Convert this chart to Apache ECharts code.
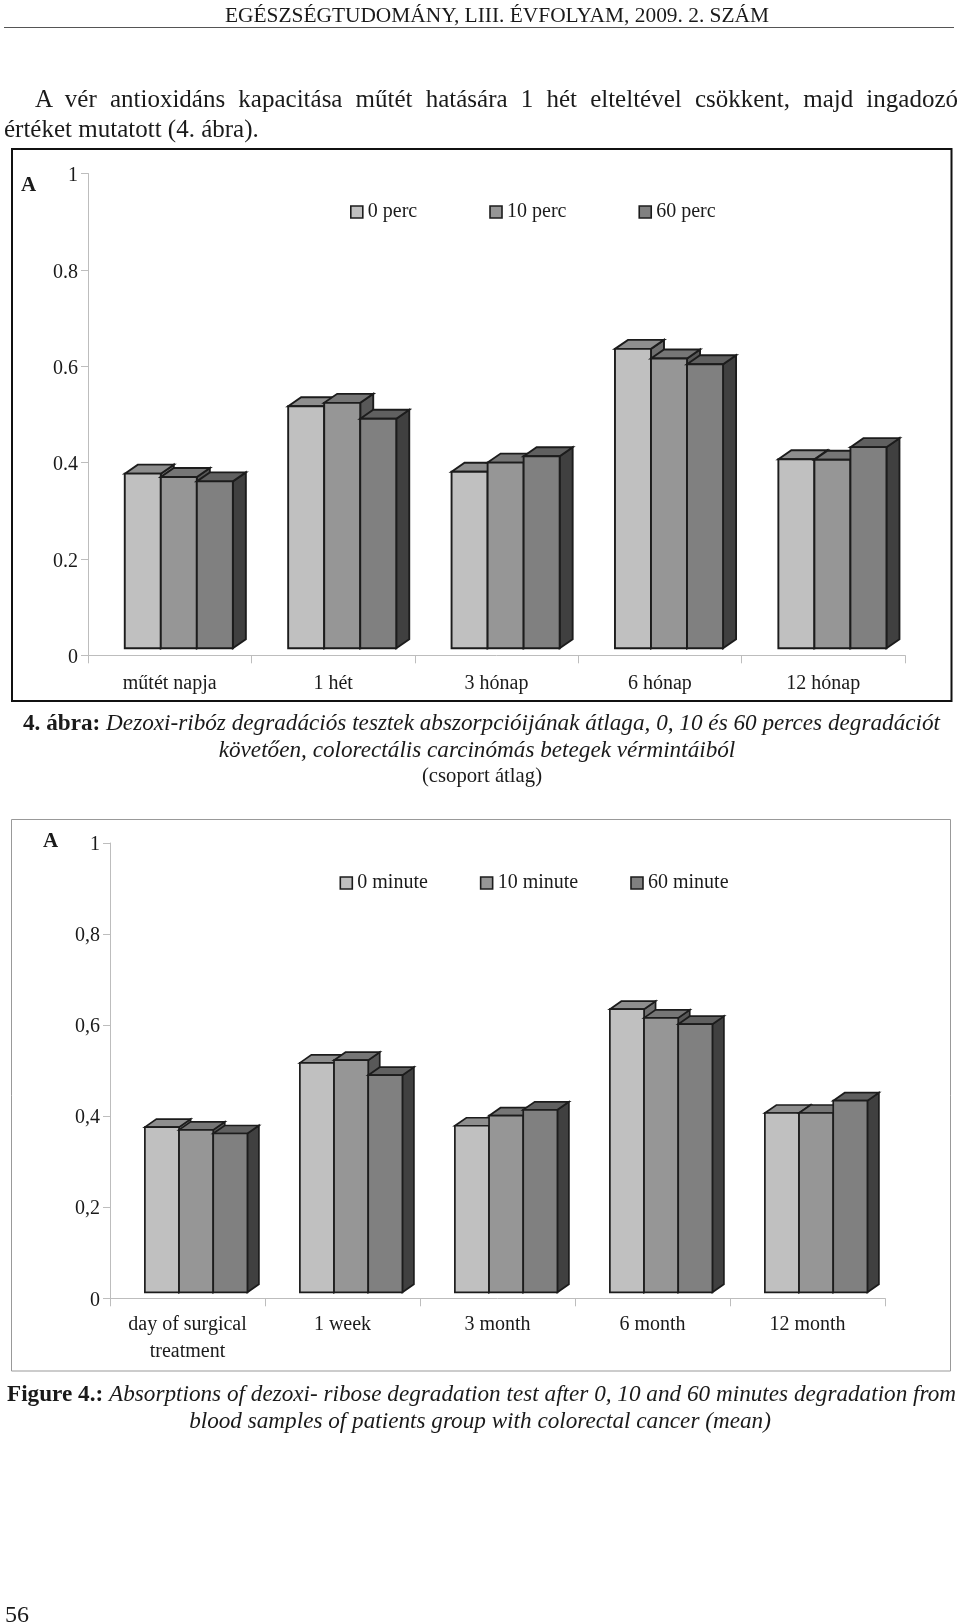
<!DOCTYPE html>
<html><head><meta charset="utf-8">
<style>
html,body{margin:0;padding:0;background:#fff}
#page{position:relative;width:960px;height:1624px;overflow:hidden;font-family:"Liberation Serif",serif;color:#1a1a1a}
#chart{position:absolute;left:0;top:0;width:960px;height:1624px}
.t{position:absolute;white-space:nowrap;line-height:1;transform:translateY(-50%)}
.j{text-align:justify;text-align-last:justify;white-space:normal}
.c{text-align:center}
#rule{position:absolute;left:4px;top:27px;width:950px;height:1px;background:#555}
</style>
<script src="https://cdn.jsdelivr.net/npm/echarts@6/dist/echarts.min.js"></script>
</head><body>
<div id="page">
<div id="chart"></div>
<div class="t c" style="left:0;width:960px;margin-left:17px;top:16px;font-size:21.4px">EGÉSZSÉGTUDOMÁNY, LIII. ÉVFOLYAM, 2009. 2. SZÁM</div>
<div id="rule"></div>
<div class="t j" style="left:35px;width:923px;top:98px;font-size:25px">A vér antioxidáns kapacitása műtét hatására 1 hét elteltével csökkent, majd ingadozó</div>
<div class="t" style="left:4px;top:128px;font-size:25px">értéket mutatott (4. ábra).</div>
<div class="t j" style="left:23px;width:917px;top:723px;font-size:23.2px"><b>4. ábra:</b> <i>Dezoxi-ribóz degradációs tesztek abszorpcióijának átlaga, 0, 10 és 60 perces degradációt</i></div>
<div class="t c" style="left:0;width:954px;top:750px;font-size:23.2px"><i>követően, colorectális carcinómás betegek vérmintáiból</i></div>
<div class="t c" style="left:0;width:964px;top:775px;font-size:20.7px">(csoport átlag)</div>
<div class="t j" style="left:7px;width:949px;top:1394px;font-size:23.2px"><b>Figure 4.:</b> <i>Absorptions of dezoxi- ribose degradation test after 0, 10 and 60 minutes degradation from</i></div>
<div class="t c" style="left:0;width:960px;top:1421px;font-size:23.2px"><i>blood samples of patients group with colorectal cancer (mean)</i></div>
<div class="t" style="left:5px;top:1614px;font-size:24px">56</div>
</div>
<script>
const categoriesHu = ['műtét napja', '1 hét', '3 hónap', '6 hónap', '12 hónap'];
const categoriesEn = ['day of surgical\ntreatment', '1 week', '3 month', '6 month', '12 month'];
const seriesNamesHu = ['0 perc', '10 perc', '60 perc'];
const seriesNamesEn = ['0 minute', '10 minute', '60 minute'];
const hu0 = [0.377, 0.517, 0.381, 0.636, 0.407];
const hu10 = [0.370, 0.524, 0.400, 0.616, 0.406];
const hu60 = [0.361, 0.491, 0.413, 0.604, 0.432];
const en0 = [0.376, 0.517, 0.379, 0.635, 0.407];
const en10 = [0.370, 0.523, 0.401, 0.616, 0.407];
const en60 = [0.362, 0.490, 0.414, 0.602, 0.434];

const faces = [
  {front:'#c0c0c0', top:'#8e8e8e', side:'#707070'},
  {front:'#969696', top:'#767676', side:'#585858'},
  {front:'#808080', top:'#606060', side:'#404040'}
];
const edge = '#1c1c1c';
const FONT = '"Liberation Serif", serif';

function render3d(seriesIdx, depthX, depthY, lift, lw) {
  return function (params, api) {
    const cat = api.value(0), val = api.value(1);
    const band = api.size([1, 0])[0];
    const centre = api.coord([cat, 0]);
    const top = api.coord([cat, val]);
    const w = band * 0.2205;
    const x0 = centre[0] - band * 0.275 + seriesIdx * w;
    const x1 = x0 + w;
    const yTop = top[1], yBase = centre[1] - lift;
    const f = faces[seriesIdx];
    const ls = {stroke: edge, lineWidth: lw, lineJoin: 'miter'};
    const poly = (pts, fill) => ({type: 'polygon', shape: {points: pts}, style: Object.assign({fill}, ls)});
    return {type: 'group', children: [
      poly([[x1, yTop], [x1 + depthX, yTop - depthY], [x1 + depthX, yBase - depthY], [x1, yBase]], f.side),
      poly([[x0, yTop], [x0 + depthX, yTop - depthY], [x1 + depthX, yTop - depthY], [x1, yTop]], f.top),
      poly([[x0, yTop], [x1, yTop], [x1, yBase], [x0, yBase]], f.front)
    ]};
  };
}

function makeSeries(names, arrays, gridIdx, dx, dy, lift, lw) {
  return arrays.map((vals, i) => ({
    type: 'custom', name: names[i], xAxisIndex: gridIdx, yAxisIndex: gridIdx,
    coordinateSystem: 'cartesian2d', encode: {x: 0, y: 1}, clip: false,
    itemStyle: {color: faces[i].front, borderColor: edge, borderWidth: 1.6},
    data: vals.map((v, c) => [c, v]),
    renderItem: render3d(i, dx, dy, lift, lw)
  }));
}

const axisGrey = '#bdbdbd';
function xAxis(cats, gridIdx, lh, margin) {
  return {type: 'category', gridIndex: gridIdx, data: cats, boundaryGap: true,
    axisLine: {lineStyle: {color: axisGrey, width: 1}},
    axisTick: {show: true, length: 8, alignWithLabel: false, lineStyle: {color: axisGrey}},
    axisLabel: {interval: 0, color: '#1a1a1a', fontFamily: FONT, fontSize: 20, margin, lineHeight: lh}};
}
function yAxis(gridIdx, comma, padTop) {
  return {type: 'value', gridIndex: gridIdx, min: 0, max: 1, interval: 0.2,
    axisLine: {show: true, lineStyle: {color: axisGrey, width: 1}},
    axisTick: {show: true, length: 7, lineStyle: {color: axisGrey}},
    splitLine: {show: false},
    axisLabel: {color: '#1a1a1a', fontFamily: FONT, fontSize: 20, margin: 10,
      rich: {n: {color: '#1a1a1a', fontFamily: FONT, fontSize: 20, padding: [padTop, 0, 0, 0]}},
      formatter: v => { const s = String(+v.toFixed(1)); return '{n|' + (comma ? s.replace('.', ',') : s) + '}'; }}};
}
function legend(names, left, top, gap) {
  return {show: true, left, top, itemGap: gap, itemWidth: 12, itemHeight: 12, icon: 'rect', orient: 'horizontal',
    padding: 0,
    data: names.map((n, i) => ({name: n, itemStyle: {color: faces[i].front, borderColor: edge, borderWidth: 1.6}})),
    selectedMode: false, textStyle: {color: '#1a1a1a', fontFamily: FONT, fontSize: 20, padding: [0, 0, 0, 0]}};
}

const chart = echarts.init(document.getElementById('chart'), null, {renderer: 'canvas'});
chart.setOption({
  animation: false,
  backgroundColor: '#fff',
  grid: [
    {left: 88, top: 173.5, width: 817, height: 481.8},
    {left: 110, top: 843, width: 775, height: 455.3}
  ],
  xAxis: [xAxis(categoriesHu, 0, 24, 16), xAxis(categoriesEn, 1, 27, 13)],
  yAxis: [yAxis(0, false, 5), yAxis(1, true, 4)],
  legend: [legend(seriesNamesHu, 350, 202, 72), legend(seriesNamesEn, 339.5, 873, 52)],
  graphic: [
    {type: 'rect', silent: true, z: -1, shape: {x: 12, y: 149, width: 939.5, height: 552}, style: {fill: 'none', stroke: '#111', lineWidth: 2}},
    {type: 'rect', silent: true, z: -1, shape: {x: 11.5, y: 819.5, width: 939, height: 551.5}, style: {fill: 'none', stroke: '#999', lineWidth: 1}},
    {type: 'text', silent: true, left: 21, top: 175, style: {text: 'A', font: 'bold 21px "Liberation Serif", serif', fill: '#1a1a1a'}},
    {type: 'text', silent: true, left: 43, top: 831, style: {text: 'A', font: 'bold 21px "Liberation Serif", serif', fill: '#1a1a1a'}}
  ],
  series: [].concat(
    makeSeries(seriesNamesHu, [hu0, hu10, hu60], 0, 13, 9, 7, 1.9),
    makeSeries(seriesNamesEn, [en0, en10, en60], 1, 11.5, 8, 6, 1.7)
  )
});
</script>
</body></html>
